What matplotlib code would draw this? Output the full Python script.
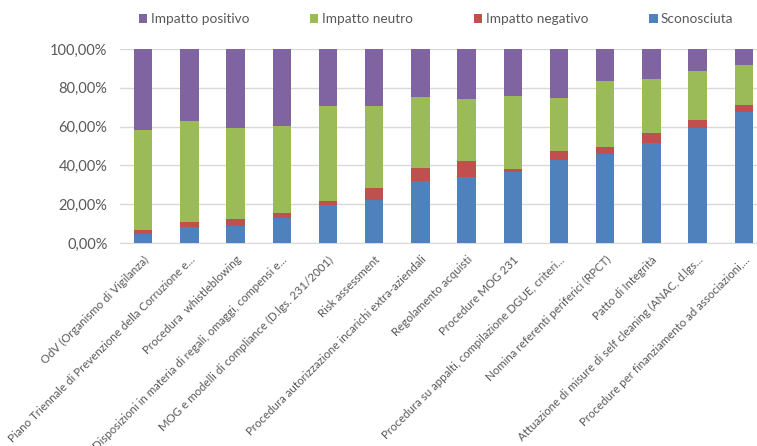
import numpy as np
import matplotlib
matplotlib.use("Agg")
from matplotlib import pyplot as plt
from matplotlib.ticker import FuncFormatter

categories = [
    "OdV (Organismo di Vigilanza)",
    "Piano Triennale di Prevenzione della Corruzione e...",
    "Procedura  whistleblowing",
    "Disposizioni in materia di regali, omaggi, compensi e...",
    "MOG e modelli di compliance (D.lgs. 231/2001)",
    "Risk assessment",
    "Procedura autorizzazione incarichi extra-aziendali",
    "Regolamento acquisti",
    "Procedure MOG 231",
    "Procedura su appalti, compilazione DGUE, criteri...",
    "Nomina referenti periferici (RPCT)",
    "Patto di Integrità",
    "Attuazione di misure di self cleaning (ANAC, d.lgs...",
    "Procedure per finanziamento ad associazioni,...",
]

# percentuali per serie
sconosciuta = [4.5, 8.2, 8.9, 12.7, 19.6, 22.0, 31.8, 34.0, 36.4, 42.8, 45.7, 51.4, 59.5, 67.4]
negativo = [2.4, 2.5, 3.5, 2.6, 2.2, 6.2, 6.7, 8.3, 1.7, 4.8, 3.6, 5.5, 3.7, 3.9]
neutro = [51.5, 52.4, 46.9, 45.0, 48.6, 42.2, 36.9, 31.9, 37.8, 27.0, 34.0, 27.6, 25.6, 20.5]
positivo = [100 - a - b - c for a, b, c in zip(sconosciuta, negativo, neutro)]

c_blue = "#4F81BD"
c_red = "#C0504D"
c_green = "#9BBB59"
c_purple = "#8064A2"
txt = "#595959"

plt.rcParams["font.family"] = ["Lato", "DejaVu Sans"]

fig = plt.figure(figsize=(7.57, 4.46), dpi=100)
ax = fig.add_axes([120 / 757, 1 - 243 / 446, 647 / 757, 194 / 446])

x = np.arange(len(categories))
w = 0.4
s = np.array(sconosciuta) / 100
n = np.array(negativo) / 100
u = np.array(neutro) / 100
p = np.array(positivo) / 100

b1 = ax.bar(x, s, w, color=c_blue, label="Sconosciuta", zorder=3)
b2 = ax.bar(x, n, w, bottom=s, color=c_red, label="Impatto negativo", zorder=3)
b3 = ax.bar(x, u, w, bottom=s + n, color=c_green, label="Impatto neutro", zorder=3)
b4 = ax.bar(x, p, w, bottom=s + n + u, color=c_purple, label="Impatto positivo", zorder=3)

ax.set_xlim(-0.5, len(categories) - 0.5)
ax.set_ylim(0, 1)
ax.set_yticks(np.arange(0, 1.01, 0.2))
ax.yaxis.set_major_formatter(FuncFormatter(lambda v, pos: ("%.2f%%" % (v * 100)).replace(".", ",")))
ax.grid(axis="y", color="#D9D9D9", linewidth=1, zorder=0)
for side in ["top", "right", "left"]:
    ax.spines[side].set_visible(False)
ax.spines["bottom"].set_color("#D9D9D9")
ax.tick_params(axis="both", length=0, colors=txt)
ax.tick_params(axis="y", pad=9, labelsize=10.5)
ax.tick_params(axis="x", pad=8)

ax.set_xticks(x)
ax.set_xticklabels(categories, rotation=45, ha="right", rotation_mode="anchor", fontsize=8.3, color=txt)

handles = [b4, b3, b2, b1]
fig.legend(handles, [h.get_label() for h in handles], loc="center left", bbox_to_anchor=(139 / 757, 1 - 19 / 446),
           ncol=4, frameon=False, fontsize=9.8, labelcolor=txt, handlelength=0.6, handleheight=0.6,
           handletextpad=0.25, columnspacing=4.5, borderaxespad=0, borderpad=0)

fig.savefig("out.png", dpi=100)
